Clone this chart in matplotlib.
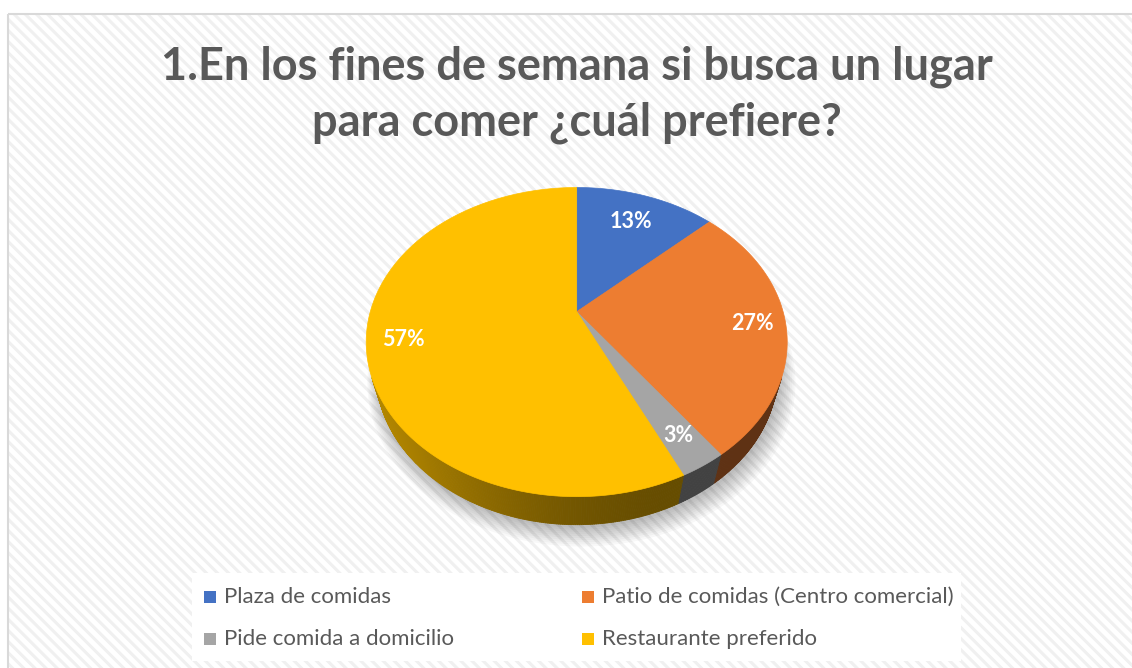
import numpy as np
import matplotlib
matplotlib.use("Agg")
import matplotlib.pyplot as plt
from matplotlib.patches import Rectangle, Polygon
from matplotlib.collections import PolyCollection
from matplotlib.colors import to_rgb

# ---- data ----
title = "1.En los fines de semana si busca un lugar\npara comer ¿cuál prefiere?"
categories = ["Plaza de comidas", "Patio de comidas (Centro comercial)",
              "Pide comida a domicilio", "Restaurante preferido"]
values = [13, 27, 3, 57]
colors = ["#4472C4", "#ED7D31", "#A5A5A5", "#FFC000"]

plt.rcParams['hatch.linewidth'] = 2.2
W, H = 1132, 668
fig = plt.figure(figsize=(W / 100, H / 100), dpi=100)
ax = fig.add_axes([0, 0, 1, 1])
ax.set_xlim(0, W)
ax.set_ylim(H, 0)
ax.axis('off')
fig.patch.set_facecolor('white')

# background with diagonal stripes
ax.add_patch(Rectangle((8, 14), W, H, facecolor='white', edgecolor='#f0f0f0',
                       hatch='\\\\\\', linewidth=0, zorder=0))
ax.add_patch(Rectangle((8, 14), W, H, facecolor='none', edgecolor='#d9d9d9',
                       linewidth=1.5, zorder=1))

# ---- 3D perspective pie ----
cx, cy = 576.7, 311.7
R = 206.4
sin_e = 0.72
cos_e = np.sqrt(1 - sin_e ** 2)
D = 3.53
h = 0.2255


def proj(theta_deg, z, r=1.0):
    t = np.radians(theta_deg)
    x = r * np.cos(t)
    y = r * np.sin(t)
    Y = y * sin_e + z * cos_e
    d = -y * cos_e + z * sin_e
    s = D / (D - d)
    return cx + R * x * s, cy - R * Y * s


total = float(sum(values))
cum = np.concatenate([[0], np.cumsum(values)])
starts = 90 - 360 * cum[:-1] / total
ends = 90 - 360 * cum[1:] / total

# shadow
th = np.linspace(0, 360, 361)
for k in range(10):
    r = 1.0 + 0.007 * k
    xs, ys = proj(th, -h, r)
    ax.add_patch(Polygon(np.column_stack([xs + 2 + 0.3 * k, ys + 3 + 0.5 * k]),
                         closed=True, facecolor='black', edgecolor='none',
                         alpha=0.028, zorder=2))

# side walls
alpha = np.degrees(np.arcsin(1 / (D * cos_e)))
vis_lo, vis_hi = -180 + alpha, -alpha
light = -180 + alpha
for a0, a1, col in zip(starts, ends, colors):
    lo, hi = max(a1, vis_lo), min(a0, vis_hi)
    if lo >= hi:
        continue
    n = max(2, int((hi - lo) * 2))
    tt = np.linspace(lo, hi, n + 1)
    polys, fcs = [], []
    base = np.array(to_rgb(col))
    for t0, t1 in zip(tt[:-1], tt[1:]):
        x0, y0 = proj(t0, 0)
        x1, y1 = proj(t1, 0)
        x2, y2 = proj(t1, -h)
        x3, y3 = proj(t0, -h)
        polys.append([(x0, y0), (x1, y1), (x2, y2), (x3, y3)])
        tm = 0.5 * (t0 + t1)
        c = np.cos(np.radians(tm - light))
        f = 0.40 + 0.30 * max(0.0, c) ** 2
        fcs.append(np.clip(base * f, 0, 1))
    ax.add_collection(PolyCollection(polys, facecolors=fcs, edgecolors=fcs,
                                     linewidths=0.6, zorder=3))

# top faces
for a0, a1, col in zip(starts, ends, colors):
    tt = np.linspace(a0, a1, max(3, int(abs(a0 - a1) * 2)))
    xs, ys = proj(tt, 0)
    pts = np.column_stack([np.concatenate([[cx], xs]), np.concatenate([[cy], ys])])
    ax.add_patch(Polygon(pts, closed=True, facecolor=col, edgecolor=col,
                         linewidth=0.5, zorder=4))

# data labels
label_r = [0.75, 0.84, 0.83, 0.83]
for a0, a1, v, lr in zip(starts, ends, values, label_r):
    mid = 0.5 * (a0 + a1)
    lx, ly = proj(mid, 0, lr)
    ax.text(lx, ly, f"{v / total * 100:.0f}%", ha='center', va='center',
            color='white', fontsize=15.5, fontweight='bold', family='Lato', zorder=6)

# title (one line per baseline)
for line, by in zip(title.split("\n"), [80, 135]):
    ax.text(576.5, by, line, ha='center', va='baseline', fontsize=32.5,
            fontweight='bold', family='Lato', color='#595959', zorder=6)

# legend
ax.add_patch(Rectangle((192, 573), 769, 88, facecolor='white', edgecolor='none', zorder=5))
key_x = [204, 582]
base_y = [603, 645]
for i, (cat, col) in enumerate(zip(categories, colors)):
    kx = key_x[i % 2]
    by = base_y[i // 2]
    ax.add_patch(Rectangle((kx, by - 12.5), 12, 12, facecolor=col, edgecolor='none', zorder=6))
    ax.text(kx + 20, by, cat, ha='left', va='baseline', fontsize=16,
            family='Lato', color='#595959', zorder=6)

fig.savefig('out.png', dpi=100)
